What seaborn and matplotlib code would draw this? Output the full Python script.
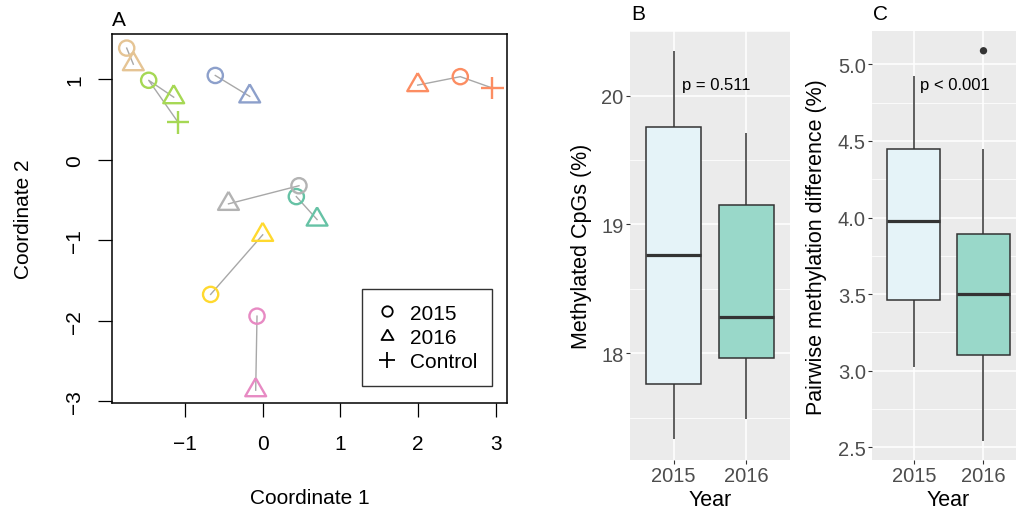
import numpy as np
import pandas as pd
import matplotlib
matplotlib.use("Agg")
import matplotlib.pyplot as plt
import seaborn as sns
from matplotlib.lines import Line2D
from matplotlib.ticker import FixedLocator, MultipleLocator

plt.rcParams['font.family'] = ['Liberation Sans', 'DejaVu Sans']

# ---------------- Panel A data (ordination) ----------------
sites = ["S1", "S2", "S3", "S4", "S5", "S6", "S7", "S8"]
site_colors = ["#66C2A5", "#FC8D62", "#8DA0CB", "#E78AC3",
               "#A6D854", "#FFD92F", "#E5C494", "#B3B3B3"]
x2015 = [0.433, 2.543, -0.61, -0.073, -1.467, -0.67, -1.75, 0.467]
y2015 = [-0.455, 1.035, 1.05, -1.94, 0.99, -1.67, 1.39, -0.32]
x2016 = [0.70, 1.995, -0.167, -0.09, -1.145, 0.0, -1.665, -0.44]
y2016 = [-0.74, 0.93, 0.79, -2.86, 0.78, -0.93, 1.19, -0.545]
ctrl_sites = ["S2", "S5"]
x_ctrl = [2.955, -1.09]
y_ctrl = [0.894, 0.47]
legend_labels = ["2015", "2016", "Control"]

# ---------------- Panel B / C data (box summaries) ----------------
years = ["2015", "2016"]
box_fill = ["#E5F3F8", "#99D8C9"]
cpg_min = [17.33, 17.485]
cpg_q1 = [17.762, 17.96]
cpg_med = [18.76, 18.28]
cpg_q3 = [19.755, 19.153]
cpg_max = [20.35, 19.71]

pd_min = [3.022, 2.543]
pd_q1 = [3.463, 3.10]
pd_med = [3.98, 3.50]
pd_q3 = [4.45, 3.894]
pd_max = [4.926, 4.446]
pd_outlier_year = ["2016"]
pd_outlier = [5.089]

p_text_B = "p = 0.511"
p_text_C = "p < 0.001"

# ---------------- build tables ----------------
rows = []
for i, s in enumerate(sites):
    rows.append((s, "2016", x2016[i], y2016[i]))
    rows.append((s, "2015", x2015[i], y2015[i]))
    if s in ctrl_sites:
        j = ctrl_sites.index(s)
        rows.append((s, "Control", x_ctrl[j], y_ctrl[j]))
pts = pd.DataFrame(rows, columns=["site", "kind", "x", "y"])
pal = dict(zip(sites, site_colors))


def five_num_df(mins, q1s, meds, q3s, maxs):
    recs = []
    for k, yr in enumerate(years):
        for v in (mins[k], q1s[k], meds[k], q3s[k], maxs[k]):
            recs.append((yr, v))
    return pd.DataFrame(recs, columns=["Year", "val"])


cpg_df = five_num_df(cpg_min, cpg_q1, cpg_med, cpg_q3, cpg_max)
pdiff_df = five_num_df(pd_min, pd_q1, pd_med, pd_q3, pd_max)

# ---------------- figure ----------------
W, H = 1016, 510
fig = plt.figure(figsize=(W / 100, H / 100), dpi=100)


def rect(l, t, r, b):
    return [l / W, 1 - b / H, (r - l) / W, (b - t) / H]


# ---- Panel A ----
axA = fig.add_axes(rect(111.7, 35, 507, 404))
sns.lineplot(data=pts, x="x", y="y", units="site", estimator=None, sort=False,
             color="#A8A8A8", lw=1.0, ax=axA, legend=False)
tri = [(0, 1), (-0.866, -0.5), (0.866, -0.5), (0, 1)]
marker_spec = {"2015": ("o", 120), "2016": (tri, 300), "Control": ("+", 270)}
for kind in legend_labels:
    mk, sz = marker_spec[kind]
    sub = pts[pts["kind"] == kind]
    sns.scatterplot(data=sub, x="x", y="y", hue="site", palette=pal,
                    marker=mk, s=sz, linewidth=1.7, legend=False, ax=axA, zorder=3)
    coll = axA.collections[-1]
    fc = coll.get_facecolors()
    coll.set_edgecolors(fc)
    coll.set_facecolors("none")
    coll.set_linewidths(1.7)

axA.set_xlim(-1.943, 3.144)
axA.set_ylim(-3.019, 1.565)
axA.set_xticks([-1, 0, 1, 2, 3])
axA.set_yticks([-3, -2, -1, 0, 1])
for sp in axA.spines.values():
    sp.set_color("black")
    sp.set_linewidth(1.1)
axA.tick_params(axis="both", length=10, width=0.9, color="black",
                labelsize=15, labelcolor="black")
axA.tick_params(axis="x", pad=12)
axA.tick_params(axis="y", pad=10, labelrotation=90)
for lab in axA.get_yticklabels():
    lab.set_va("center")
axA.set_xlabel("Coordinate 1", fontsize=15)
axA.set_ylabel("Coordinate 2", fontsize=15)
axA.xaxis.set_label_coords(0.5, -0.257)
axA.xaxis.label.set_va("center")
axA.yaxis.set_label_coords(-0.222, 0.5)
axA.yaxis.label.set_va("center")

handles = [
    Line2D([], [], ls="", marker="o", mfc="none", mec="black", ms=7.5, mew=1.3),
    Line2D([], [], ls="", marker=tri, mfc="none", mec="black", ms=10, mew=1.3),
    Line2D([], [], ls="", marker="+", mfc="none", mec="black", ms=11, mew=1.3),
]
leg = axA.legend(handles, legend_labels, loc="lower right",
                 bbox_to_anchor=(0.961, 0.047), borderaxespad=0, fontsize=15,
                 frameon=True, fancybox=False, edgecolor="black",
                 handlelength=1.0, handletextpad=0.6, labelspacing=0.25,
                 borderpad=0.7)
leg.get_frame().set_linewidth(1.0)
fig.text(112 / W, 1 - 20 / H, "A", fontsize=15, ha="left", va="center")


# ---- ggplot-like panels ----
def gg_style(ax, minor_step):
    ax.set_facecolor("#EBEBEB")
    for sp in ax.spines.values():
        sp.set_visible(False)
    ax.yaxis.set_minor_locator(MultipleLocator(minor_step))
    ax.set_axisbelow(True)
    ax.grid(True, which="major", color="white", lw=1.1)
    ax.grid(True, which="minor", axis="y", color="white", lw=0.55)
    ax.tick_params(which="major", length=3, width=0.8, color="#333333",
                   labelcolor="#4D4D4D", labelsize=14.5, pad=1.5)
    ax.tick_params(which="minor", length=0)
    ax.set_xlim(-0.6, 1.6)


box_kw = dict(x="Year", y="val", hue="Year", order=years, hue_order=years,
              palette=box_fill, whis=(0, 100), width=0.766, linecolor="#333333",
              linewidth=1.1, showcaps=False, showfliers=False, legend=False,
              dodge=False, saturation=1,
              medianprops={"linewidth": 2.3, "color": "#333333"})

axB = fig.add_axes(rect(630, 32.3, 790, 461))
sns.boxplot(data=cpg_df, ax=axB, **box_kw)
axB.set_ylim(17.17, 20.5)
axB.set_yticks([18, 19, 20])
gg_style(axB, 0.5)
axB.text(0.587, 20.09, p_text_B, ha="center", va="center", fontsize=12)
axB.set_xlabel("Year", fontsize=15.5)
axB.set_ylabel("Methylated CpGs (%)", fontsize=15.5)
axB.xaxis.set_label_coords(0.5, -0.092)
axB.xaxis.label.set_va("center")
axB.yaxis.set_label_coords(-0.302, 0.5)
axB.yaxis.label.set_va("center")
fig.text(631 / W, 1 - 15 / H, "B", fontsize=15, ha="left", va="center")

axC = fig.add_axes(rect(872, 32.3, 1025.3, 461))
sns.boxplot(data=pdiff_df, ax=axC, **box_kw)
sns.scatterplot(x=[years.index(y) for y in pd_outlier_year], y=pd_outlier,
                color="#333333", s=28, edgecolor="none", legend=False, ax=axC,
                zorder=4)
axC.set_ylim(2.417, 5.216)
axC.set_yticks([2.5, 3.0, 3.5, 4.0, 4.5, 5.0])
axC.set_yticklabels(["2.5", "3.0", "3.5", "4.0", "4.5", "5.0"])
gg_style(axC, 0.25)
axC.text(0.584, 4.87, p_text_C, ha="center", va="center", fontsize=12)
axC.set_xlabel("Year", fontsize=15.5)
axC.set_ylabel("Pairwise methylation difference (%)", fontsize=15.5)
axC.xaxis.set_label_coords(0.5, -0.092)
axC.xaxis.label.set_va("center")
axC.yaxis.set_label_coords(-0.361, 0.5)
axC.yaxis.label.set_va("center")
fig.text(873 / W, 1 - 15 / H, "C", fontsize=15, ha="left", va="center")

fig.savefig("out.png", dpi=100)
